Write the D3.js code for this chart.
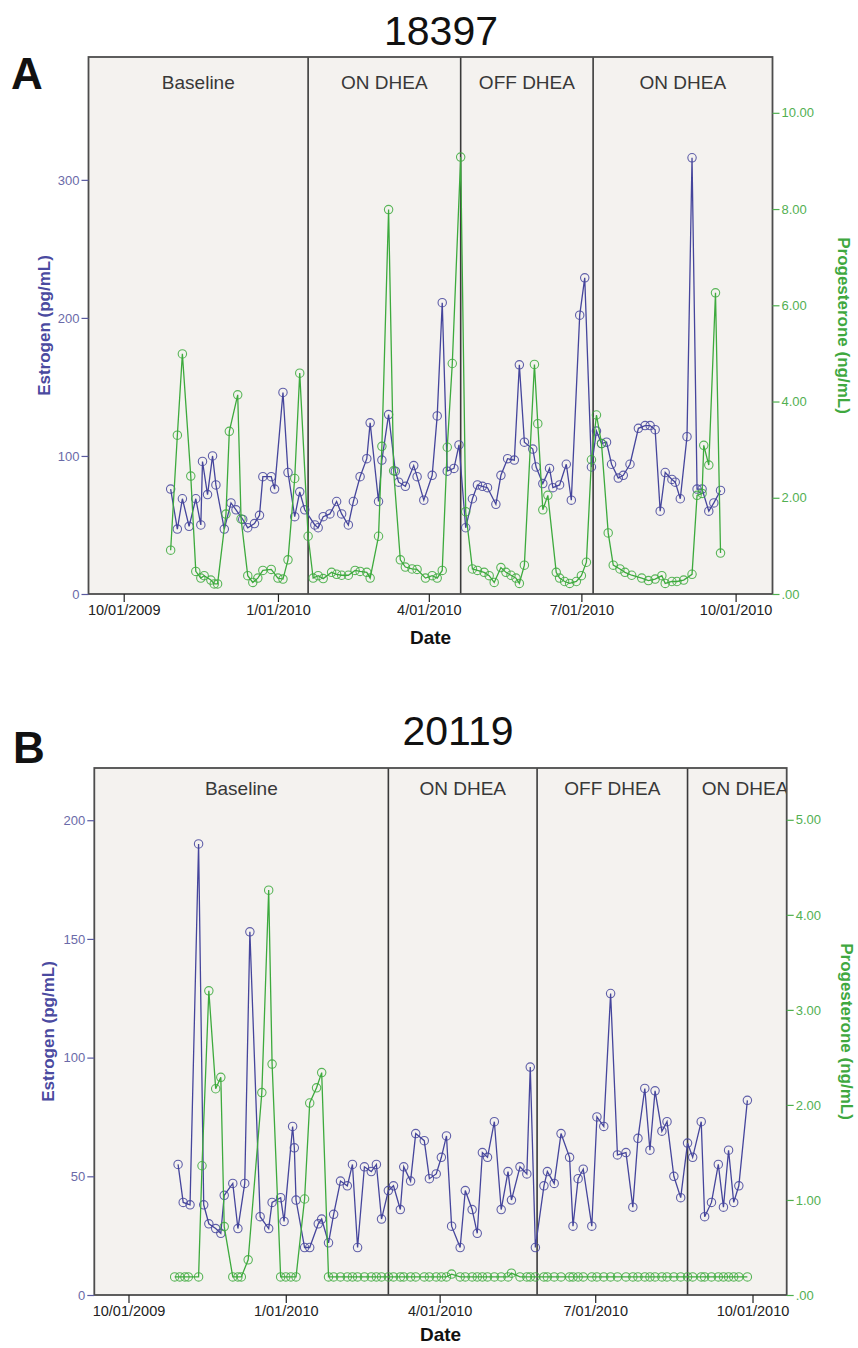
<!DOCTYPE html>
<html>
<head>
<meta charset="utf-8">
<script src="https://cdn.jsdelivr.net/npm/d3@7"></script>
<style>
  body { margin: 0; background: #ffffff; }
  svg { display: block; font-family: "Liberation Sans", Arial, sans-serif; }
</style>
</head>
<body>
<svg id="chart" width="858" height="1348"></svg>
<script>
// ---------- Subject 18397 ----------
const estrogenA_dates = ["2009-10-29","2009-11-02","2009-11-05","2009-11-09","2009-11-13","2009-11-16","2009-11-17","2009-11-20","2009-11-23","2009-11-25","2009-11-30","2009-12-04","2009-12-07","2009-12-11","2009-12-14","2009-12-18","2009-12-21","2009-12-23","2009-12-28","2009-12-30","2010-01-04","2010-01-07","2010-01-11","2010-01-14","2010-01-17","2010-01-23","2010-01-25","2010-01-28","2010-02-01","2010-02-05","2010-02-08","2010-02-12","2010-02-15","2010-02-19","2010-02-23","2010-02-25","2010-03-02","2010-03-04","2010-03-08","2010-03-12","2010-03-14","2010-03-18","2010-03-23","2010-03-25","2010-03-29","2010-04-03","2010-04-06","2010-04-09","2010-04-12","2010-04-16","2010-04-19","2010-04-23","2010-04-27","2010-04-30","2010-05-03","2010-05-06","2010-05-11","2010-05-14","2010-05-18","2010-05-22","2010-05-25","2010-05-28","2010-06-02","2010-06-04","2010-06-08","2010-06-12","2010-06-14","2010-06-18","2010-06-22","2010-06-25","2010-06-30","2010-07-03","2010-07-07","2010-07-10","2010-07-13","2010-07-16","2010-07-19","2010-07-23","2010-07-26","2010-07-30","2010-08-04","2010-08-08","2010-08-11","2010-08-14","2010-08-17","2010-08-20","2010-08-24","2010-08-26","2010-08-29","2010-09-02","2010-09-05","2010-09-08","2010-09-11","2010-09-15","2010-09-18","2010-09-22"];
const estrogenA = [76,47,69,49,69,50,96,72,100,79,47,66,61,54,48,51,57,85,85,76,146,88,56,74,61,50,48,56,58,67,58,50,67,85,98,124,67,97,130,89,81,78,93,85,68,86,129,211,89,91,108,48,69,79,78,77,65,86,98,97,166,110,105,92,80,91,77,79,94,68,202,229,92,118,109,110,94,84,86,94,120,122,122,119,60,88,83,81,69,114,316,76,76,60,66,75];

const progesteroneA_dates = ["2009-10-29","2009-11-02","2009-11-05","2009-11-10","2009-11-13","2009-11-16","2009-11-18","2009-11-22","2009-11-24","2009-11-26","2009-12-01","2009-12-03","2009-12-08","2009-12-10","2009-12-14","2009-12-17","2009-12-20","2009-12-23","2009-12-28","2010-01-01","2010-01-04","2010-01-07","2010-01-11","2010-01-14","2010-01-19","2010-01-22","2010-01-25","2010-01-28","2010-02-02","2010-02-05","2010-02-08","2010-02-12","2010-02-16","2010-02-19","2010-02-23","2010-02-25","2010-03-02","2010-03-04","2010-03-08","2010-03-11","2010-03-15","2010-03-18","2010-03-22","2010-03-25","2010-03-30","2010-04-03","2010-04-06","2010-04-09","2010-04-12","2010-04-15","2010-04-20","2010-04-23","2010-04-27","2010-04-30","2010-05-04","2010-05-07","2010-05-10","2010-05-14","2010-05-17","2010-05-20","2010-05-23","2010-05-25","2010-05-28","2010-06-03","2010-06-05","2010-06-08","2010-06-11","2010-06-16","2010-06-18","2010-06-21","2010-06-24","2010-06-28","2010-07-01","2010-07-04","2010-07-07","2010-07-10","2010-07-13","2010-07-17","2010-07-20","2010-07-24","2010-07-27","2010-07-31","2010-08-06","2010-08-10","2010-08-14","2010-08-18","2010-08-20","2010-08-24","2010-08-27","2010-08-31","2010-09-05","2010-09-08","2010-09-11","2010-09-12","2010-09-15","2010-09-19","2010-09-22"];
const progesteroneA = [0.91,3.30,4.99,2.45,0.47,0.33,0.38,0.29,0.21,0.21,1.66,3.38,4.14,1.56,0.38,0.24,0.33,0.49,0.51,0.33,0.31,0.71,2.40,4.59,1.20,0.33,0.38,0.32,0.45,0.41,0.39,0.39,0.49,0.47,0.45,0.33,1.20,3.07,7.99,2.56,0.71,0.56,0.52,0.51,0.33,0.38,0.33,0.49,3.05,4.79,9.08,1.71,0.52,0.49,0.45,0.38,0.24,0.55,0.45,0.39,0.33,0.22,0.60,4.77,3.54,1.75,2.05,0.45,0.33,0.26,0.22,0.26,0.38,0.66,2.79,3.72,3.13,1.27,0.60,0.52,0.45,0.39,0.33,0.28,0.31,0.38,0.22,0.26,0.26,0.29,0.41,2.05,2.09,3.09,2.68,6.26,0.85];

const phaseStartsA = ["2010-01-19","2010-04-20","2010-07-08"];

// ---------- Subject 20119 ----------
const estrogenB_dates = ["2009-10-30","2009-11-02","2009-11-06","2009-11-11","2009-11-14","2009-11-17","2009-11-21","2009-11-24","2009-11-26","2009-12-01","2009-12-04","2009-12-08","2009-12-11","2009-12-17","2009-12-22","2009-12-24","2009-12-29","2009-12-31","2010-01-05","2010-01-06","2010-01-07","2010-01-12","2010-01-15","2010-01-20","2010-01-22","2010-01-26","2010-01-29","2010-02-02","2010-02-06","2010-02-09","2010-02-12","2010-02-16","2010-02-20","2010-02-23","2010-02-26","2010-03-02","2010-03-05","2010-03-09","2010-03-11","2010-03-15","2010-03-18","2010-03-23","2010-03-26","2010-03-30","2010-04-02","2010-04-05","2010-04-08","2010-04-13","2010-04-16","2010-04-20","2010-04-23","2010-04-26","2010-04-29","2010-05-03","2010-05-07","2010-05-11","2010-05-13","2010-05-18","2010-05-22","2010-05-24","2010-05-27","2010-06-01","2010-06-03","2010-06-07","2010-06-11","2010-06-16","2010-06-18","2010-06-21","2010-06-24","2010-06-29","2010-07-02","2010-07-06","2010-07-10","2010-07-14","2010-07-19","2010-07-23","2010-07-26","2010-07-30","2010-08-02","2010-08-05","2010-08-09","2010-08-12","2010-08-16","2010-08-20","2010-08-24","2010-08-27","2010-09-01","2010-09-03","2010-09-07","2010-09-11","2010-09-14","2010-09-17","2010-09-20","2010-09-23","2010-09-28"];
const estrogenB = [55,39,38,190,38,30,28,26,42,47,28,47,153,33,28,39,41,31,71,62,40,20,20,30,32,22,34,48,46,55,20,54,52,55,32,44,46,36,54,48,68,65,49,51,58,67,29,20,44,36,26,60,58,73,36,52,40,54,51,96,20,46,52,47,68,58,29,49,53,29,75,71,127,59,60,37,66,87,61,86,69,73,50,41,64,58,73,33,39,55,37,61,39,46,82];

const progesteroneB_dates = ["2009-10-28","2009-10-31","2009-11-03","2009-11-05","2009-11-11","2009-11-13","2009-11-17","2009-11-21","2009-11-24","2009-11-26","2009-12-01","2009-12-04","2009-12-06","2009-12-10","2009-12-18","2009-12-22","2009-12-24","2009-12-29","2010-01-01","2010-01-04","2010-01-07","2010-01-12","2010-01-15","2010-01-19","2010-01-22","2010-01-26","2010-01-29","2010-02-02","2010-02-06","2010-02-09","2010-02-12","2010-02-16","2010-02-20","2010-02-23","2010-02-26","2010-03-02","2010-03-05","2010-03-09","2010-03-11","2010-03-15","2010-03-18","2010-03-23","2010-03-26","2010-03-30","2010-04-02","2010-04-05","2010-04-08","2010-04-13","2010-04-16","2010-04-20","2010-04-23","2010-04-26","2010-04-29","2010-05-03","2010-05-07","2010-05-11","2010-05-13","2010-05-18","2010-05-22","2010-05-24","2010-05-27","2010-06-01","2010-06-03","2010-06-07","2010-06-11","2010-06-16","2010-06-18","2010-06-21","2010-06-24","2010-06-29","2010-07-02","2010-07-06","2010-07-10","2010-07-14","2010-07-19","2010-07-23","2010-07-26","2010-07-30","2010-08-02","2010-08-05","2010-08-09","2010-08-12","2010-08-16","2010-08-20","2010-08-24","2010-08-27","2010-09-01","2010-09-03","2010-09-07","2010-09-11","2010-09-14","2010-09-17","2010-09-20","2010-09-23","2010-09-28"];
const progesteroneB = [0.19,0.19,0.19,0.19,0.19,1.36,3.20,2.17,2.29,0.72,0.19,0.19,0.19,0.37,2.13,4.26,2.43,0.19,0.19,0.19,0.19,1.01,2.02,2.18,2.34,0.19,0.19,0.19,0.19,0.19,0.19,0.19,0.19,0.19,0.19,0.19,0.19,0.19,0.19,0.19,0.19,0.19,0.19,0.19,0.19,0.19,0.22,0.19,0.19,0.19,0.19,0.19,0.19,0.19,0.19,0.19,0.23,0.19,0.19,0.19,0.19,0.19,0.19,0.19,0.19,0.19,0.19,0.19,0.19,0.19,0.19,0.19,0.19,0.19,0.19,0.19,0.19,0.19,0.19,0.19,0.19,0.19,0.19,0.19,0.19,0.19,0.19,0.19,0.19,0.19,0.19,0.19,0.19,0.19,0.19];

const phaseStartsB = ["2010-03-02","2010-05-28","2010-08-24"];

// ---------- shared labels ----------
const phaseLabels = ["Baseline", "ON DHEA", "OFF DHEA", "ON DHEA"];
const dateTicks = ["2009-10-01","2010-01-01","2010-04-01","2010-07-01","2010-10-01"];
const estrogenTicksA = [0, 100, 200, 300];
const progesteroneTicksA = [0, 2, 4, 6, 8, 10];
const estrogenTicksB = [0, 50, 100, 150, 200];
const progesteroneTicksB = [0, 1, 2, 3, 4, 5];

const parse = d3.timeParse("%Y-%m-%d");
const fmtDate = d3.timeFormat("%-m/%d/%Y");
const fmtProg = d => d === 0 ? ".00" : d3.format(".2f")(d);

const BLUE = "#45459c";
const GREEN = "#3daa3d";
const svg = d3.select("#chart");

function drawPanel(p) {
  const g = svg.append("g");
  const x = d3.scaleTime().domain([parse(p.start), parse(p.end)]).range([p.left, p.right]);
  const yL = d3.scaleLinear().domain([0, p.leftMax]).range([p.bottom, p.top]);
  const yR = d3.scaleLinear().domain([0, p.rightMax]).range([p.bottom, p.top]);
  const w = p.right - p.left, h = p.bottom - p.top;

  const clipId = "clip-" + p.id;
  svg.append("clipPath").attr("id", clipId)
    .append("rect").attr("x", p.left).attr("y", p.top).attr("width", w).attr("height", h);

  // plot background
  g.append("rect").attr("x", p.left).attr("y", p.top).attr("width", w).attr("height", h)
    .attr("fill", "#f4f2ef");

  // treatment phase boundaries
  const bounds = p.phases.map(parse);
  g.selectAll("line.phase").data(bounds).join("line").attr("class", "phase")
    .attr("x1", d => x(d)).attr("x2", d => x(d))
    .attr("y1", p.top).attr("y2", p.bottom)
    .attr("stroke", "#3a3a3a").attr("stroke-width", 1.6);

  // phase names, centred in each phase
  const edges = [x.domain()[0], ...bounds, x.domain()[1]];
  const labelG = g.append("g").attr("clip-path", `url(#${clipId})`);
  labelG.selectAll("text").data(p.labels).join("text")
    .attr("x", (d, i) => (x(edges[i]) + x(edges[i + 1])) / 2 + (p.labelShift[i] || 0))
    .attr("y", p.top + p.labelDy)
    .attr("text-anchor", "middle")
    .attr("font-size", 19).attr("fill", "#383838")
    .text(d => d);

  // series
  const est = p.estDates.map((d, i) => ({ date: parse(d), v: p.est[i] }));
  const prog = p.progDates.map((d, i) => ({ date: parse(d), v: p.prog[i] }));
  const dataG = g.append("g").attr("clip-path", `url(#${clipId})`);

  const series = [
    { data: est, y: yL, color: BLUE },
    { data: prog, y: yR, color: GREEN }
  ];
  series.forEach(s => {
    dataG.append("path").datum(s.data)
      .attr("fill", "none").attr("stroke", s.color).attr("stroke-width", 1.3)
      .attr("d", d3.line().x(d => x(d.date)).y(d => s.y(d.v)));
    dataG.append("g").selectAll("circle").data(s.data).join("circle")
      .attr("cx", d => x(d.date)).attr("cy", d => s.y(d.v)).attr("r", 4.2)
      .attr("fill", "none").attr("stroke", s.color).attr("stroke-width", 1.1)
      .attr("stroke-opacity", 0.85);
  });

  // frame
  g.append("rect").attr("x", p.left).attr("y", p.top).attr("width", w).attr("height", h)
    .attr("fill", "none").attr("stroke", "#4d4d4d").attr("stroke-width", 1.8);

  // axes
  const ax = (sel, color, textColor, size) => {
    sel.select(".domain").remove();
    sel.selectAll(".tick line").attr("stroke", color).attr("stroke-width", 1.2);
    sel.selectAll(".tick text").attr("fill", textColor)
      .attr("font-family", "'Liberation Sans', Arial, sans-serif").attr("font-size", size);
  };
  g.append("g").attr("transform", `translate(${p.left},0)`)
    .call(d3.axisLeft(yL).tickValues(p.leftTicks).tickSize(7).tickPadding(2))
    .call(s => ax(s, "#5a5aa0", "#6a6aa8", 13));
  g.append("g").attr("transform", `translate(${p.right},0)`)
    .call(d3.axisRight(yR).tickValues(p.rightTicks).tickFormat(fmtProg).tickSize(7).tickPadding(2))
    .call(s => ax(s, "#4fb04f", "#52b052", 13));
  g.append("g").attr("transform", `translate(0,${p.bottom})`)
    .call(d3.axisBottom(x).tickValues(dateTicks.map(parse)).tickFormat(fmtDate).tickSize(8).tickPadding(3))
    .call(s => ax(s, "#222", "#222", 14.5));

  // titles and axis names
  svg.append("text").attr("x", p.titleX).attr("y", p.titleY).attr("text-anchor", "middle")
    .attr("font-size", 41).attr("fill", "#111").text(p.title);
  svg.append("text").attr("x", p.letterX).attr("y", p.letterY)
    .attr("font-size", 44).attr("font-weight", "bold").attr("fill", "#111").text(p.letter);
  svg.append("text")
    .attr("transform", `translate(${p.yLabelX},${(p.top + p.bottom) / 2}) rotate(-90)`)
    .attr("text-anchor", "middle").attr("dominant-baseline", "central")
    .attr("font-size", 17).attr("font-weight", "bold").attr("fill", "#4a4aa0")
    .text("Estrogen (pg/mL)");
  svg.append("text")
    .attr("transform", `translate(${p.y2LabelX},${(p.top + p.bottom) / 2}) rotate(90)`)
    .attr("text-anchor", "middle").attr("dominant-baseline", "central")
    .attr("font-size", 17).attr("font-weight", "bold").attr("fill", "#3fa83f")
    .text("Progesterone (ng/mL)");
  svg.append("text").attr("x", (p.left + p.right) / 2).attr("y", p.bottom + p.dateDy)
    .attr("text-anchor", "middle").attr("font-size", 19).attr("font-weight", "bold")
    .attr("fill", "#111").text("Date");
}

drawPanel({
  id: "a", letter: "A", title: "18397", titleX: 441, titleY: 45, letterX: 11, letterY: 89,
  left: 88.5, right: 772.5, top: 57, bottom: 594,
  start: "2009-09-10", end: "2010-10-23",
  leftMax: 389, rightMax: 11.16,
  leftTicks: estrogenTicksA, rightTicks: progesteroneTicksA,
  estDates: estrogenA_dates, est: estrogenA,
  progDates: progesteroneA_dates, prog: progesteroneA,
  phases: phaseStartsA, labels: phaseLabels, labelShift: [0, 0, 0, 0], labelDy: 32,
  yLabelX: 44, y2LabelX: 843, dateDy: 50
});

drawPanel({
  id: "b", letter: "B", title: "20119", titleX: 458, titleY: 745, letterX: 13, letterY: 763,
  left: 94.3, right: 786.7, top: 768, bottom: 1295,
  start: "2009-09-11", end: "2010-10-21",
  leftMax: 222, rightMax: 5.545,
  leftTicks: estrogenTicksB, rightTicks: progesteroneTicksB,
  estDates: estrogenB_dates, est: estrogenB,
  progDates: progesteroneB_dates, prog: progesteroneB,
  phases: phaseStartsB, labels: phaseLabels, labelShift: [0, 0, 0, 8], labelDy: 27,
  yLabelX: 48, y2LabelX: 846, dateDy: 46
});
</script>
</body>
</html>
